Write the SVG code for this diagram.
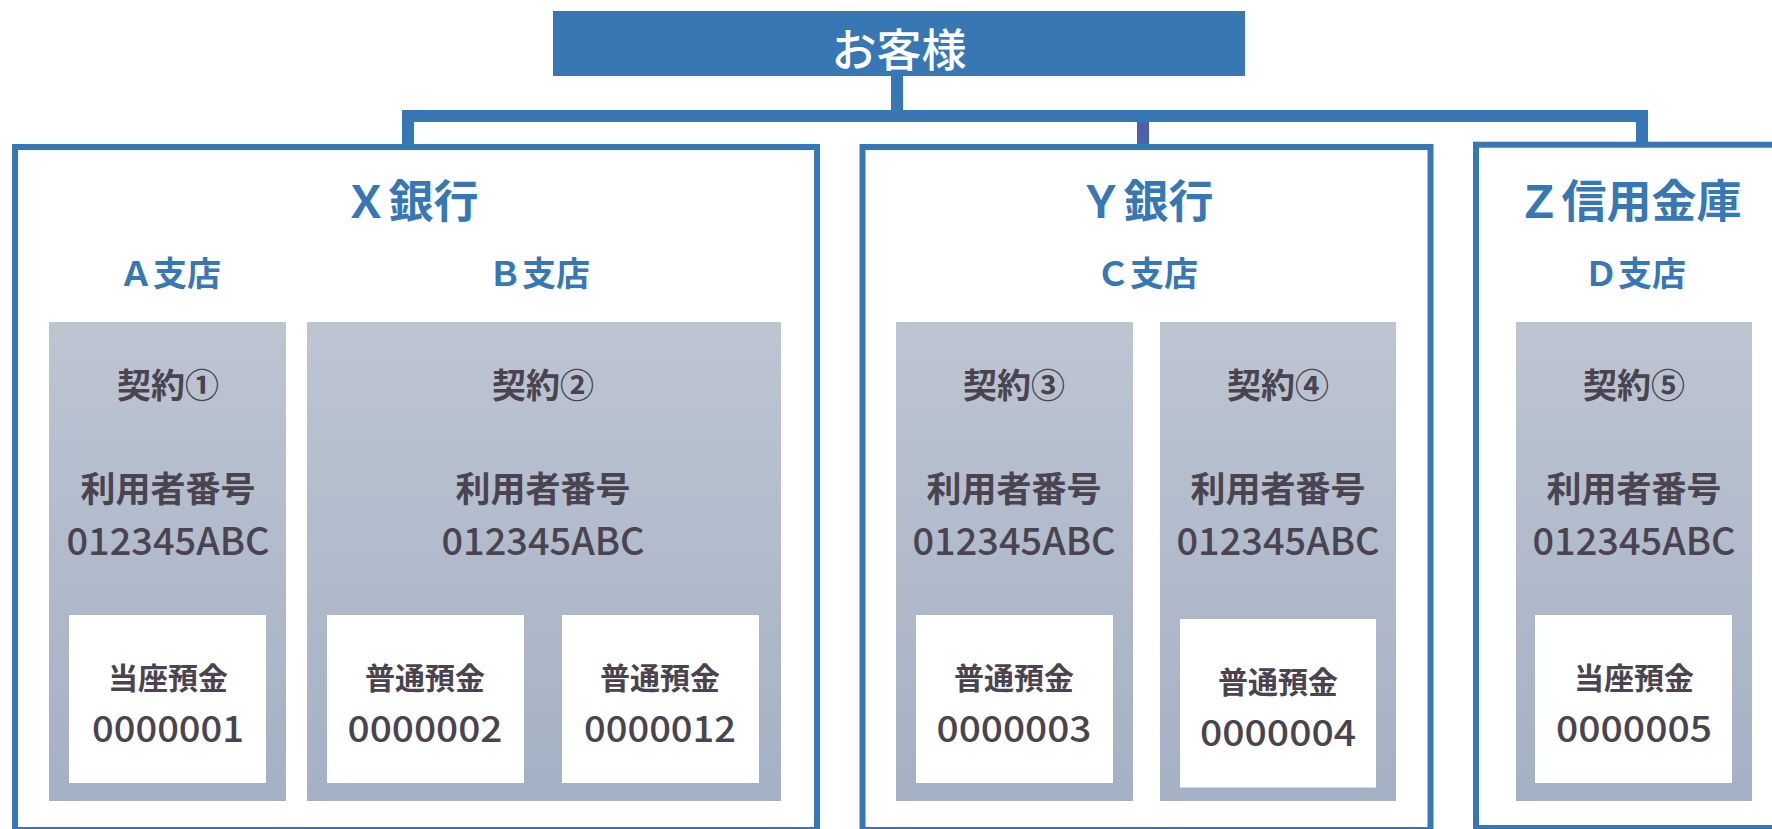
<svg xmlns="http://www.w3.org/2000/svg" width="1772" height="829" viewBox="0 0 1772 829">
<style>
.bank{fill:none;stroke:#3777b4;stroke-width:6}
.conn{stroke:#3777b4;stroke-width:12;fill:none}
.connp{stroke:#4e62aa;stroke-width:12;fill:none}
.gray{fill:url(#g)}
.white{fill:#ffffff}
text{font-family:"Noto Sans CJK JP","Noto Sans",sans-serif;text-anchor:middle;dominant-baseline:central}
.top{fill:#ffffff;font-size:45px;font-weight:500}
.bt{fill:#3777b4;font-size:45px;font-weight:700}
.br{fill:#3777b4;font-size:34px;font-weight:700}
.k{fill:#4a4350;font-size:34px;font-weight:700}
.u{fill:#4a4350;font-size:35px;font-weight:700}
.id{fill:#4a4350;font-size:38px;font-weight:500}
.ac{fill:#4a4350;font-size:30px;font-weight:700}
.no{fill:#4a4350;font-size:36px;font-weight:500}
</style>
<defs>
<linearGradient id="g" x1="0" y1="0" x2="0" y2="1">
<stop offset="0" stop-color="#bdc5d1"/>
<stop offset="1" stop-color="#a4b0c4"/>
</linearGradient>
</defs>
<rect width="1772" height="829" fill="#ffffff"/>

<g id="connectors">
<line class="conn" x1="897" y1="76" x2="897" y2="116"/>
<line class="conn" x1="402" y1="116" x2="1648" y2="116"/>
<line class="conn" x1="408" y1="110" x2="408" y2="147"/>
<line class="connp" x1="1143" y1="122" x2="1143" y2="146"/>
<line class="conn" x1="1642" y1="110" x2="1642" y2="144"/>
</g>

<g id="customer">
<rect x="553" y="11" width="692" height="65" fill="#3777b4"/>
<text class="top" x="899" y="47">お客様</text>
</g>

<g id="bank-x">
<rect class="bank" x="15" y="147" width="802" height="683"/>
<text class="bt" x="411" y="198">Ｘ銀行</text>
<text class="br" x="170" y="271">Ａ支店</text>
<text class="br" x="539" y="271">Ｂ支店</text>
</g>

<g id="bank-y">
<rect class="bank" x="862.5" y="147" width="568" height="683"/>
<text class="bt" x="1146" y="198">Ｙ銀行</text>
<text class="br" x="1147" y="271">Ｃ支店</text>
</g>

<g id="bank-z">
<rect class="bank" x="1476" y="144.7" width="400" height="683.3"/>
<text class="bt" x="1629" y="198">Ｚ信用金庫</text>
<text class="br" x="1635" y="271">Ｄ支店</text>
</g>

<g id="contract-1">
<rect class="gray" x="49" y="322" width="237" height="479"/>
<text class="k" x="168" y="383">契約①</text>
<text class="u" x="168" y="486">利用者番号</text>
<text class="id" x="168" y="538" textLength="203" lengthAdjust="spacingAndGlyphs">012345ABC</text>
</g>
<g id="account-1">
<rect class="white" x="69" y="615" width="197" height="168"/>
<text class="ac" x="168" y="676">当座預金</text>
<text class="no" x="168" y="726" textLength="152" lengthAdjust="spacingAndGlyphs">0000001</text>
</g>

<g id="contract-2">
<rect class="gray" x="307" y="322" width="474" height="479"/>
<text class="k" x="543" y="383">契約②</text>
<text class="u" x="543" y="486">利用者番号</text>
<text class="id" x="543" y="538" textLength="203" lengthAdjust="spacingAndGlyphs">012345ABC</text>
</g>
<g id="account-2">
<rect class="white" x="327" y="615" width="197" height="168"/>
<text class="ac" x="425" y="676">普通預金</text>
<text class="no" x="425" y="726" textLength="155" lengthAdjust="spacingAndGlyphs">0000002</text>
</g>
<g id="account-12">
<rect class="white" x="562" y="615" width="197" height="168"/>
<text class="ac" x="660" y="676">普通預金</text>
<text class="no" x="660" y="726" textLength="152" lengthAdjust="spacingAndGlyphs">0000012</text>
</g>

<g id="contract-3">
<rect class="gray" x="896" y="322" width="237" height="479"/>
<text class="k" x="1014" y="383">契約③</text>
<text class="u" x="1014" y="486">利用者番号</text>
<text class="id" x="1014" y="538" textLength="203" lengthAdjust="spacingAndGlyphs">012345ABC</text>
</g>
<g id="account-3">
<rect class="white" x="916" y="615" width="197" height="168"/>
<text class="ac" x="1014" y="676">普通預金</text>
<text class="no" x="1014" y="726" textLength="155" lengthAdjust="spacingAndGlyphs">0000003</text>
</g>

<g id="contract-4">
<rect class="gray" x="1160" y="322" width="236" height="479"/>
<text class="k" x="1278" y="383">契約④</text>
<text class="u" x="1278" y="486">利用者番号</text>
<text class="id" x="1278" y="538" textLength="203" lengthAdjust="spacingAndGlyphs">012345ABC</text>
</g>
<g id="account-4">
<rect class="white" x="1180" y="619" width="196" height="168.5"/>
<text class="ac" x="1278" y="680">普通預金</text>
<text class="no" x="1278" y="729.5" textLength="156" lengthAdjust="spacingAndGlyphs">0000004</text>
</g>

<g id="contract-5">
<rect class="gray" x="1516" y="322" width="236" height="479"/>
<text class="k" x="1634" y="383">契約⑤</text>
<text class="u" x="1634" y="486">利用者番号</text>
<text class="id" x="1634" y="538" textLength="203" lengthAdjust="spacingAndGlyphs">012345ABC</text>
</g>
<g id="account-5">
<rect class="white" x="1535" y="615" width="197" height="168"/>
<text class="ac" x="1634" y="676">当座預金</text>
<text class="no" x="1634" y="726" textLength="156" lengthAdjust="spacingAndGlyphs">0000005</text>
</g>
</svg>
